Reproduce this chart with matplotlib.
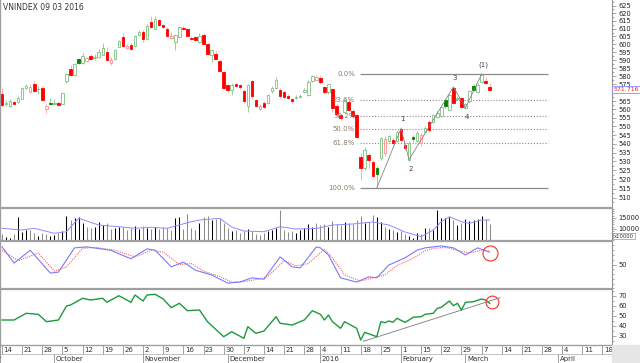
import numpy as np
import pandas as pd
import matplotlib
matplotlib.use("Agg")
import matplotlib.pyplot as plt
from matplotlib.ticker import FixedLocator, FuncFormatter, NullFormatter
from matplotlib.patches import Rectangle

# ---- data (VNINDEX daily, 14 Sep 2015 - 9 Mar 2016) ----
opens = [569.3, 563.5, 562.1, 564.5, 564.5, 566.3, 573.0, 570.5, 575.0, 572.0,
         573.0, 560.0, 564.0, 563.2, 564.0, 563.5, 577.2, 584.5, 580.6, 590.7,
         588.0, 589.5, 592.8, 591.5, 592.0, 593.5, 595.0, 588.5, 590.7, 598.5,
         604.4, 597.9, 599.8, 599.1, 606.0, 608.0, 603.5, 614.3, 609.8, 615.6,
         612.4, 609.8, 604.0, 601.6, 604.8, 610.5, 609.8, 604.2, 604.8, 601.6,
         606.0, 600.4, 593.5, 594.1, 589.5, 582.4, 574.5, 571.5, 575.0, 574.5,
         570.9, 562.0, 576.9, 565.7, 560.0, 564.0, 563.8, 571.0, 573.0, 571.7,
         570.3, 568.0, 566.1, 566.8, 567.5, 570.3, 568.6, 577.0, 578.0, 579.0,
         573.3, 570.3, 572.0, 562.0, 556.7, 558.5, 564.5, 559.0, 556.7, 532.5,
         526.5, 533.7, 529.8, 526.4, 532.0, 534.9, 541.6, 542.2, 541.6, 548.5,
         539.4, 531.0, 544.0, 541.6, 540.6, 546.9, 552.6, 552.6, 555.5, 556.0,
         565.7, 559.7, 572.9, 566.3, 566.8, 561.0, 564.9, 573.9, 570.3, 576.3,
         577.2, 573.3]
highs = [572.9, 565.7, 566.0, 565.0, 568.0, 573.5, 575.0, 575.0, 577.0, 574.0,
         574.0, 563.0, 567.0, 566.0, 565.0, 570.5, 582.0, 587.0, 588.0, 591.5,
         594.5, 592.0, 594.0, 594.0, 597.0, 600.8, 598.5, 592.0, 597.0, 603.0,
         607.0, 600.0, 600.5, 606.0, 609.0, 609.0, 613.0, 618.2, 618.5, 616.5,
         613.0, 611.0, 608.0, 606.5, 611.8, 611.5, 610.5, 605.0, 605.5, 607.3,
         607.0, 601.0, 597.0, 595.5, 590.5, 583.0, 575.5, 576.0, 576.0, 575.0,
         572.0, 575.5, 577.8, 566.5, 563.0, 565.0, 569.5, 574.0, 579.5, 573.0,
         571.0, 569.0, 567.0, 568.5, 569.0, 573.0, 577.5, 580.5, 581.0, 580.0,
         574.0, 575.5, 573.0, 563.0, 557.5, 566.5, 566.0, 560.0, 557.5, 535.0,
         538.0, 535.0, 531.0, 527.5, 544.0, 544.5, 545.0, 544.0, 548.0, 549.5,
         541.0, 541.5, 545.0, 547.5, 546.0, 550.0, 553.5, 557.5, 559.0, 562.0,
         566.5, 569.5, 573.7, 568.0, 567.5, 564.0, 571.5, 575.0, 576.0, 581.3,
         579.5, 575.9]
lows = [561.5, 562.0, 561.5, 563.0, 564.0, 566.0, 572.0, 570.0, 570.5, 569.0,
        565.0, 558.0, 562.5, 562.5, 562.0, 563.0, 575.9, 580.0, 580.0, 587.5,
        587.5, 589.0, 590.5, 590.0, 591.5, 593.0, 589.5, 587.0, 590.0, 598.0,
        598.5, 597.0, 596.5, 598.5, 605.5, 601.6, 603.0, 610.5, 609.5, 612.0,
        610.5, 605.0, 603.5, 596.4, 604.0, 609.0, 605.0, 603.0, 602.0, 601.0,
        600.0, 593.5, 589.1, 590.5, 582.5, 572.5, 570.5, 568.6, 573.5, 572.5,
        564.0, 558.5, 567.0, 561.5, 559.5, 561.0, 563.0, 570.0, 572.5, 567.5,
        567.0, 566.0, 564.0, 566.0, 567.0, 570.0, 568.0, 576.5, 577.5, 575.5,
        569.5, 569.5, 558.5, 557.0, 554.0, 558.0, 559.0, 555.0, 543.5, 519.8,
        525.0, 525.5, 521.0, 515.3, 531.0, 533.0, 541.0, 539.5, 541.0, 541.5,
        536.5, 530.5, 541.0, 541.0, 539.0, 546.0, 547.0, 552.0, 555.0, 555.5,
        561.0, 559.0, 563.0, 565.0, 560.5, 560.5, 564.0, 571.0, 570.0, 576.0,
        575.5, 571.0]
closes = [562.7, 564.0, 565.1, 563.3, 566.9, 572.9, 574.0, 573.5, 571.0, 572.5,
          565.7, 562.0, 563.0, 564.0, 562.7, 569.9, 581.3, 580.6, 587.3, 588.3,
          592.5, 591.5, 591.0, 592.0, 595.0, 597.6, 590.1, 589.8, 596.4, 602.0,
          599.1, 598.9, 597.2, 605.4, 608.0, 603.5, 611.8, 611.1, 616.3, 612.4,
          611.1, 605.4, 605.0, 605.7, 611.1, 609.8, 605.4, 603.5, 602.7, 605.4,
          600.4, 594.1, 596.4, 591.0, 583.3, 572.9, 571.7, 574.5, 574.3, 573.3,
          564.9, 574.5, 567.9, 562.1, 561.9, 561.5, 568.6, 573.0, 577.8, 568.0,
          567.5, 566.7, 564.9, 567.5, 568.0, 571.5, 576.6, 580.0, 579.5, 576.3,
          570.3, 575.0, 561.0, 557.5, 555.0, 565.7, 559.7, 556.0, 544.0, 526.5,
          536.5, 530.9, 522.0, 522.8, 543.3, 543.0, 544.2, 540.6, 546.9, 542.2,
          537.7, 540.6, 542.8, 546.3, 545.1, 549.1, 548.0, 556.7, 558.0, 561.5,
          562.1, 568.6, 563.8, 566.9, 561.5, 563.5, 570.9, 571.5, 574.5, 580.6,
          576.0, 571.716]
volumes = [7600, 6200, 5800, 7600, 15400, 8500, 9200, 9400, 8000, 6600,
           8200, 7400, 6800, 7200, 8000, 9000, 15800, 14000, 14700, 15400,
           12400, 10900, 10500, 10800, 13200, 11500, 12400, 10000, 10400, 11000,
           10800, 9600, 10200, 11200, 10000, 11200, 10500, 9800, 10800, 10000,
           10900, 10400, 9400, 14700, 15300, 9800, 16700, 10200, 9500, 12800,
           15300, 15700, 13800, 14500, 15000, 12500, 10500, 9000, 9500, 8200,
           9000, 9800, 8800, 7500, 7000, 8000, 8800, 9200, 10200, 18500,
           9500, 8500, 9000, 8200, 9500, 10500, 12000, 10800, 12500, 11500,
           12000, 11000, 13500, 12200, 11800, 13000, 12600, 12000, 14000, 15700,
           12500, 13000, 16200, 15300, 13000, 11000, 10000, 9500, 8500, 9000,
           7600, 6700, 5800, 8000, 7600, 10500, 10300, 9500, 18500, 15000,
           14700, 15400, 13900, 11500, 12500, 14300, 13600, 13900, 14200, 15800,
           14200, 12000]

# volume moving average (blue line), read at bar positions
vma_idx = [0, 5, 8, 13, 16, 19, 24, 29, 33, 37, 41, 43, 47, 49, 54, 57, 60, 65,
           69, 73, 78, 82, 87, 92, 96, 100, 104, 107, 109, 111, 114, 116, 119, 121]
vma_val = [10180, 9400, 10180, 7900, 8640, 14730, 11680, 10900, 10180, 10640,
           10180, 11230, 13180, 13950, 14730, 10770, 8950, 8640, 10900, 9860,
           10090, 11680, 12140, 13050, 11680, 8500, 6360, 9400, 13180, 15450,
           13180, 12450, 13950, 13950]

# stochastic %K (blue) and %D (red dotted)
stk_idx = [0, 3, 7, 12, 14, 18, 21, 27, 28, 32, 36, 38, 42, 45, 48, 52, 56, 59,
           62, 65, 69, 72, 74, 78, 79, 81, 84, 88, 91, 93, 96, 100, 103, 105,
           109, 112, 115, 118, 121]
stk_val = [87, 53, 80, 32, 34, 85, 87, 80, 76, 62, 83, 80, 45, 55, 38, 28, 11, 13,
           22, 19, 66, 45, 43, 87, 85, 70, 22, 13, 24, 22, 49, 64, 80, 85,
           89, 85, 70, 85, 76]
std_idx = [0, 4, 9, 13, 16, 20, 23, 28, 33, 37, 40, 44, 47, 50, 54, 57, 60, 64,
           66, 70, 73, 76, 80, 82, 85, 89, 93, 95, 98, 102, 105, 107, 110, 113,
           116, 119, 121]
std_val = [80, 58, 74, 36, 45, 84, 86, 80, 66, 80, 76, 50, 52, 36, 25, 13, 14, 20,
           25, 58, 47, 52, 82, 64, 28, 15, 24, 28, 48, 63, 79, 84, 86, 80,
           74, 80, 78]

# RSI (green)
rsi_idx = [0, 3, 6, 9, 11, 14, 16, 17, 20, 22, 25, 26, 29, 32, 33, 35, 36, 38, 40,
           42, 44, 46, 49, 51, 55, 57, 60, 61, 63, 65, 68, 69, 72, 75, 77, 79, 80,
           81, 82, 84, 85, 88, 89, 90, 93, 94, 95, 96, 97, 98, 100, 101, 102, 104,
           105, 107, 108, 109, 111, 112, 113, 114, 115, 117, 119, 120, 121]
rsi_val = [45.7, 45.7, 52.4, 51.4, 44.0, 45.7, 59.7, 60.7, 67.4, 65.7, 67.4, 63.4,
           70.0, 63.4, 70.7, 64.7, 70.7, 71.4, 66.7, 58.0, 62.4, 55.0, 55.7, 44.0,
           29.0, 34.0, 27.4, 39.0, 32.4, 34.7, 49.0, 42.4, 40.7, 45.7, 55.0, 51.4,
           45.7, 50.7, 44.0, 37.4, 44.0, 37.4, 25.7, 33.4, 29.0, 44.0, 43.0, 44.7,
           43.4, 47.4, 43.4, 45.7, 48.4, 49.0, 51.4, 52.4, 57.4, 58.4, 64.7, 60.0,
           62.4, 55.7, 63.4, 64.0, 66.7, 65.7, 62.4]
rsi_trend_idx = [89.7, 123.6]
rsi_trend_val = [24.4, 68.0]

# Elliott wave count and Fibonacci retracement
wave_idx = [93, 99, 101, 112, 115, 119]
wave_price = [515.3, 548.8, 531.0, 573.5, 561.0, 581.3]
wave_labels = ["", "1", "2", "3", "4", "(1)"]
fib_pcts = [0.0, 23.6, 38.2, 50.0, 61.8, 100.0]

# trading calendar (Tet holiday week and New Year removed)
holidays = pd.to_datetime(["2016-01-01", "2016-02-08", "2016-02-09",
                           "2016-02-10", "2016-02-11", "2016-02-12"])
days = pd.bdate_range("2015-09-14", "2016-04-29")
days = days[~days.isin(holidays)]

# ---- figure ----
W, H = 640, 363
fig = plt.figure(figsize=(W / 100, H / 100), dpi=100)
fig.patch.set_facecolor("white")
AXR = 612
XMIN, XMAX = -0.5, -0.5 + AXR / 4.03


def px_axes(top, bottom, left=0, right=AXR):
    return fig.add_axes([left / W, 1 - bottom / H, (right - left) / W, (bottom - top) / H])


def style_panel(ax, top_line=True):
    ax.set_xlim(XMIN, XMAX)
    ax.set_facecolor("white")
    ax.xaxis.set_visible(False)
    ax.spines["bottom"].set_visible(False)
    ax.spines["top"].set_visible(top_line)
    ax.spines["top"].set_color("#a0a0a0")
    ax.spines["top"].set_linewidth(1.6)
    ax.spines["left"].set_color("#a0a0a0")
    ax.spines["left"].set_linewidth(1.0)
    ax.spines["right"].set_color("#909090")
    ax.spines["right"].set_linewidth(0.8)
    ax.yaxis.set_ticks_position("right")
    ax.yaxis.set_label_position("right")
    ax.tick_params(axis="y", which="major", direction="out", length=3, width=0.5,
                   color="#888888", labelcolor="#222222", labelsize=4.8, pad=1.5)
    ax.tick_params(axis="y", which="minor", direction="out", length=1.6, width=0.5,
                   color="#888888")


intfmt = FuncFormatter(lambda v, p: f"{v:.0f}")
# the last-price tag sits on top of the 570 label, as in the original
pricefmt = FuncFormatter(lambda v, p: "" if abs(v - 570) < 0.1 else f"{v:.0f}")

# main price panel
ax = px_axes(0, 208)
style_panel(ax, top_line=False)
ax.set_yscale("log")
ax.set_ylim(504.5, 628.78)
ax.yaxis.set_major_locator(FixedLocator(np.arange(510, 626, 5)))
ax.yaxis.set_minor_locator(FixedLocator(np.arange(507.5, 628, 5)))
ax.yaxis.set_major_formatter(pricefmt)
ax.yaxis.set_minor_formatter(NullFormatter())

o = np.array(opens)
c = np.array(closes)
hi = np.array(highs)
lo = np.array(lows)
n = len(c)
idx = np.arange(n)
prev = np.r_[o[0], c[:-1]]
faces, edges, wicks = [], [], []
for i in range(n):
    up = c[i] >= prev[i]
    hollow = c[i] > o[i]
    if hollow and up:
        faces.append("white"); edges.append("#7fbf7f"); wicks.append("#8cc68c")
    elif hollow:
        faces.append("white"); edges.append("#ff8a8a"); wicks.append("#ffa0a0")
    elif up:
        faces.append("#008000"); edges.append("#008000"); wicks.append("#8cc68c")
    else:
        faces.append("#ff0000"); edges.append("#ff0000"); wicks.append("#ffa0a0")
ax.vlines(idx, lo, hi, colors=wicks, linewidth=0.6, zorder=2)
body_lo = np.minimum(o, c)
body_h = np.maximum(np.abs(c - o), 0.35)
ax.bar(idx, body_h, bottom=body_lo, width=0.62, color=faces, edgecolor=edges,
       linewidth=0.6, zorder=3)

# fibonacci levels
f_high, f_low = max(wave_price), min(wave_price)
x0 = (360 - 2) / 4.03
x1 = (548 - 2) / 4.03
for pct in fib_pcts:
    lvl = f_high - pct / 100.0 * (f_high - f_low)
    if pct in (0.0, 100.0):
        ax.hlines(lvl, x0, x1, colors="#8a8a8a", linewidth=0.9, zorder=1)
    else:
        ax.hlines(lvl, x0, x1, colors="#8a8a8a", linewidth=0.8,
                  linestyles=(0, (1, 1.6)), zorder=1)
    ax.text(x0 - 1.2, lvl, f"{pct:.1f}%", ha="right", va="center", fontsize=5,
            color="#8c7e6a", zorder=4)

# wave count
ax.plot(wave_idx, wave_price, color="#858585", linewidth=0.6, zorder=4)
for k, (wx, wy, lab) in enumerate(zip(wave_idx, wave_price, wave_labels)):
    if not lab:
        continue
    top = k % 2 == 1
    ax.annotate(lab, (wx, wy), xytext=(1 if lab != "(1)" else 1.5, 4.5 if top else -4.5),
                textcoords="offset points", ha="center",
                va="bottom" if top else "top", fontsize=5, color="#444444", zorder=5)

# volume panel
axv = px_axes(208, 241)
style_panel(axv)
axv.set_ylim(4410, 19410)
axv.yaxis.set_major_locator(FixedLocator([10000, 15000]))
axv.yaxis.set_minor_locator(FixedLocator(np.arange(5000, 19500, 1000)))
axv.yaxis.set_major_formatter(intfmt)
vcol = ["#000000" if c[i] >= prev[i] else "#8c8c8c" for i in range(n)]
axv.vlines(idx, 0, volumes, colors=vcol, linewidth=0.75)
axv.plot(vma_idx, vma_val, color="#8c8cff", linewidth=0.7)

# stochastic panel
axs = px_axes(241, 289)
style_panel(axs)
axs.set_ylim(-1.5, 99.4)
axs.yaxis.set_major_locator(FixedLocator([50]))
axs.yaxis.set_minor_locator(FixedLocator(np.arange(0, 101, 10)))
axs.yaxis.set_major_formatter(intfmt)
axs.plot(std_idx, std_val, color="#ff6060", linewidth=0.8, linestyle=(0, (1, 1)))
axs.plot(stk_idx, stk_val, color="#7a7aff", linewidth=0.8)
axs.plot(stk_idx[-1], stk_val[-1] - 2, "o", ms=10.8, mfc="none", mec="#ff2a2a", mew=0.8)

# RSI panel
axr = px_axes(289, 345)
style_panel(axr)
axr.set_ylim(20.7, 76.7)
axr.yaxis.set_major_locator(FixedLocator([30, 40, 50, 60, 70]))
axr.yaxis.set_minor_locator(FixedLocator(np.arange(25, 80, 5)))
axr.yaxis.set_major_formatter(intfmt)
axr.plot(rsi_trend_idx, rsi_trend_val, color="#7a7a7a", linewidth=0.6)
axr.plot(rsi_idx, rsi_val, color="#1c9a3c", linewidth=1.0)
axr.plot(rsi_idx[-1] + 0.5, rsi_val[-1] + 1.3, "o", ms=9.2, mfc="none", mec="#ff2a2a", mew=0.8)

# date axis
axd = px_axes(345, 363)
axd.set_xlim(XMIN, XMAX)
axd.set_ylim(0, 1)
axd.set_xticks([])
axd.set_yticks([])
for s in ("right", "bottom"):
    axd.spines[s].set_visible(False)
axd.spines["top"].set_color("#a0a0a0")
axd.spines["top"].set_linewidth(1.0)
axd.spines["left"].set_color("#a0a0a0")
split = 0.483
axd.axhline(split, color="#b8b8b8", linewidth=0.6)
week = days.to_period("W")
month = days.to_period("M")
for i in range(len(days)):
    if i == 0 or week[i] != week[i - 1]:
        axd.vlines(i, split, 1, colors="#909090", linewidth=0.6)
        axd.text(i + 0.35, 0.74, str(days[i].day), fontsize=5, color="#333333",
                 ha="left", va="center", clip_on=True)
    if i > 0 and month[i] != month[i - 1]:
        axd.vlines(i, 0, split, colors="#909090", linewidth=0.6)
        lab = str(days[i].year) if days[i].month == 1 else days[i].strftime("%B")
        axd.text(i + 0.35, 0.24, lab, fontsize=5, color="#333333",
                 ha="left", va="center", clip_on=True)
# September label runs off the left edge, only its tail shows
axd.text(-0.05, 0.24, "September", fontsize=5, color="#333333", ha="right",
         va="center", clip_on=True)

fig.patches.append(Rectangle((AXR / W, 0), (W - AXR) / W, 18 / H,
                             transform=fig.transFigure, color="#e6e6e6", zorder=0))

# title, last price tag, volume unit
fig.text(3 / W, 1 - 7 / H, "VNINDEX 09 03 2016", fontsize=5.5, va="center", color="#333333")
fig.text(626 / W, 1 - 89.5 / H, f"{closes[-1]:.3f}", fontsize=4.5, ha="center", va="center",
         color="#ff2020", bbox=dict(boxstyle="square,pad=0.15", fc="white", ec="#8c8cff", lw=0.6))
fig.text(614 / W, 1 - 236 / H, "x10000", fontsize=3.8, ha="left", va="center", color="#333333",
         bbox=dict(boxstyle="square,pad=0.1", fc="white", ec="#999999", lw=0.5))

fig.savefig("out.png", dpi=100, facecolor="white")
